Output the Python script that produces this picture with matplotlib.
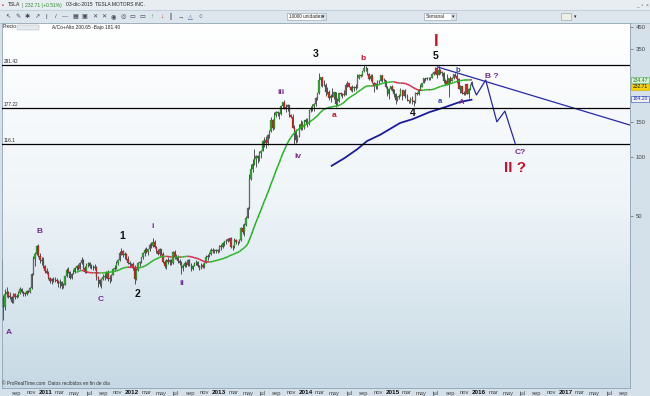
import numpy as np
import pandas as pd
import matplotlib
matplotlib.use('Agg')
import matplotlib.pyplot as plt
import matplotlib.dates as mdates
from matplotlib.patches import Rectangle
from matplotlib.collections import LineCollection
from matplotlib.colors import LinearSegmentedColormap
from matplotlib.ticker import NullLocator

plt.rcParams['font.family'] = ['Liberation Sans', 'DejaVu Sans']

# TSLA weekly bars, one value per week (weeks start Monday 2010-06-28 .. 2015-11-30)
# open of each week = close of the week before
first_open = 19.0

close = [
    # 2010
    19.2,
    17.4, 20.2, 20.7, 19.9,
    19.5, 18.5, 20.3, 19.6, 19.9,
    20.5, 21.4, 20.7, 20.4,
    20.3, 20.9, 20.7, 21.8,
    25.5, 30.3, 32.3, 35.3, 31.5,
    30.2, 29.8, 28.0, 26.6,
    # 2011
    26.0, 24.3, 23.6, 24.1, 23.9,
    23.8, 23.5, 22.9, 23.3,
    22.2, 22.6, 24.9, 26.9,
    26.2, 24.5, 25.7, 26.2,
    27.4, 27.9, 27.2, 29.0, 30.2,
    27.4, 26.2, 28.5, 29.2,
    27.9, 28.2, 27.3, 27.7,
    24.6, 23.8, 22.8, 24.1, 24.8,
    25.0, 26.3, 24.0, 24.4,
    25.3, 27.0, 27.5, 29.2, 30.1,
    32.6, 33.5, 31.9, 32.3,
    30.6, 29.0, 28.6, 28.6,
    # 2012
    27.3, 24.0, 26.9, 29.1, 29.4,
    31.0, 32.8, 33.8, 33.2,
    34.0, 35.8, 35.5, 37.2,
    35.0, 33.3, 32.2, 34.0, 32.2,
    29.4, 27.9, 30.0, 29.3,
    30.0, 29.0, 33.1, 31.3,
    31.0, 29.6, 29.0, 27.4, 27.9,
    29.1, 28.4, 30.0, 28.3,
    27.2, 28.2, 28.6, 29.3,
    28.0, 27.4, 28.5, 27.8, 29.0,
    31.2, 31.6, 32.1, 33.9,
    33.3, 33.6, 33.7, 33.4, 35.4,
    # 2013
    34.9, 36.5, 37.5, 37.5,
    38.3, 38.7, 34.8, 34.9,
    37.9, 37.0, 37.1, 37.9,
    43.6, 41.9, 45.0, 49.1, 55.2,
    76.8, 86.9, 92.1, 97.8,
    100.8, 98.0, 104.5, 107.5,
    120.1, 121.0, 117.0, 128.5, 134.5,
    153.5, 139.0, 161.8, 169.0,
    166.1, 165.0, 180.5, 190.0, 173.3,
    178.7, 181.5, 162.8, 159.6,
    140.0, 135.3, 121.6, 127.3,
    137.4, 147.0, 139.3, 152.6, 149.6,
    # 2014
    145.7, 171.3, 174.6, 181.4,
    185.0, 198.2, 209.6, 244.8,
    253.0, 230.9, 230.0, 212.2, 212.0,
    197.7, 203.0, 200.9, 211.4,
    184.1, 190.2, 209.1, 207.8,
    205.8, 206.0, 231.6, 236.0, 225.3,
    217.0, 222.5, 223.6, 223.3,
    250.5, 259.3, 255.8, 269.7,
    280.0, 279.3, 262.2, 246.6, 255.2,
    236.9, 227.5, 235.2, 241.7,
    241.2, 258.7, 242.8, 244.5,
    223.7, 207.0, 219.3, 227.8, 219.3,
    # 2015
    206.6, 192.4, 201.3, 203.6,
    217.4, 203.8, 217.1, 203.3,
    193.9, 191.1, 195.7, 190.6, 188.7,
    210.9, 207.5, 218.4, 226.0,
    236.6, 248.8, 247.1, 250.8,
    249.1, 250.7, 262.5, 267.0, 280.0,
    259.2, 274.7, 265.4, 266.2,
    242.5, 242.0, 230.8, 248.5, 241.5,
    250.2, 262.1, 256.9, 247.6,
    220.7, 227.0, 209.1, 206.9,
    232.4, 207.5, 220.5, 230.3, 232.7,
]

high = [
    # 2010
    30.4,
    20.0, 21.5, 21.9, 21.0,
    20.8, 19.7, 20.6, 20.5, 20.3,
    21.0, 22.0, 21.7, 21.0,
    20.8, 21.3, 21.2, 22.0,
    25.8, 31.5, 33.0, 35.8, 36.4,
    32.5, 31.0, 31.0, 28.3,
    # 2011
    27.5, 26.4, 24.8, 24.5, 24.6,
    24.8, 24.5, 23.8, 24.0,
    23.6, 23.0, 25.0, 27.5,
    27.6, 26.5, 26.0, 27.0,
    27.8, 28.3, 28.6, 29.3, 31.2,
    30.5, 27.9, 28.9, 29.5,
    29.4, 28.6, 28.5, 28.7,
    27.9, 25.0, 24.2, 24.4, 25.5,
    25.8, 26.5, 26.8, 25.2,
    25.6, 27.4, 28.3, 29.6, 30.5,
    33.4, 34.6, 33.9, 33.0,
    32.8, 31.5, 29.8, 29.0,
    # 2012
    29.5, 28.3, 27.4, 29.5, 29.8,
    31.3, 33.2, 34.4, 34.9,
    34.3, 36.5, 37.3, 38.9,
    38.0, 35.5, 34.0, 34.5, 34.3,
    33.0, 30.0, 30.5, 31.2,
    30.5, 30.5, 33.6, 33.8,
    32.2, 32.0, 30.5, 29.8, 28.8,
    29.6, 29.5, 30.4, 30.5,
    29.0, 28.5, 29.5, 30.2,
    29.6, 28.5, 29.0, 28.9, 29.3,
    31.8, 32.4, 33.0, 34.5,
    34.6, 34.0, 34.3, 34.0, 35.9,
    # 2013
    36.3, 37.3, 37.5, 38.2,
    38.9, 39.0, 39.3, 35.9,
    38.9, 38.5, 37.6, 38.3,
    44.3, 45.5, 46.0, 50.0, 55.8,
    82.0, 91.5, 97.8, 110.0,
    102.0, 102.5, 106.5, 108.5,
    122.0, 125.3, 127.5, 130.5, 136.0,
    159.0, 155.0, 168.0, 169.5,
    170.5, 168.0, 182.0, 190.0, 194.5,
    185.0, 185.5, 181.0, 165.0,
    164.0, 144.0, 137.5, 128.5,
    146.0, 154.0, 151.0, 154.0, 156.0,
    # 2014
    156.0, 172.5, 180.0, 184.0,
    187.0, 200.0, 210.0, 265.0,
    254.0, 253.5, 244.0, 234.5, 224.5,
    218.5, 208.0, 222.5, 212.5,
    212.5, 199.0, 211.0, 212.0,
    210.0, 216.5, 237.0, 240.0, 236.0,
    227.0, 229.0, 228.5, 232.0,
    262.0, 262.0, 262.5, 270.0,
    291.4, 286.5, 280.5, 264.0, 262.0,
    262.5, 238.5, 237.0, 244.5,
    244.5, 259.0, 259.5, 250.0,
    244.0, 228.5, 222.0, 228.0, 230.0,
    # 2015
    220.5, 209.0, 201.5, 207.5,
    221.5, 218.0, 218.0, 219.0,
    206.5, 194.5, 200.5, 202.0, 194.0,
    212.0, 213.5, 219.0, 233.5,
    237.0, 249.0, 251.0, 252.0,
    252.0, 252.0, 263.5, 272.0, 283.0,
    281.0, 286.0, 277.5, 272.0,
    269.0, 246.0, 262.5, 249.0, 254.5,
    253.0, 262.5, 266.0, 265.0,
    248.5, 229.5, 227.0, 215.5,
    233.0, 233.5, 222.0, 232.0, 240.0,
]

low = [
    # 2010
    17.5,
    15.0, 16.9, 19.6, 19.4,
    19.1, 18.2, 18.3, 19.2, 19.3,
    19.6, 20.2, 20.4, 19.8,
    19.9, 20.1, 20.4, 20.5,
    21.5, 25.3, 28.0, 32.0, 31.0,
    29.0, 28.5, 27.5, 26.0,
    # 2011
    25.5, 24.0, 23.0, 22.8, 23.2,
    23.4, 23.0, 22.0, 21.6,
    21.5, 21.7, 22.5, 24.6,
    25.8, 24.0, 24.2, 25.5,
    25.8, 26.8, 26.8, 27.0, 28.7,
    27.0, 25.8, 26.0, 27.8,
    27.5, 27.0, 26.8, 26.8,
    23.8, 22.0, 22.3, 21.6, 23.8,
    23.9, 24.5, 23.5, 23.0,
    23.5, 25.2, 26.5, 27.2, 28.5,
    29.8, 31.8, 31.0, 30.5,
    30.0, 28.6, 27.6, 27.9,
    # 2012
    26.8, 22.7, 23.9, 26.5, 28.2,
    29.0, 30.5, 31.5, 32.5,
    32.0, 33.5, 34.5, 35.2,
    34.5, 32.5, 31.8, 31.5, 31.8,
    29.0, 27.5, 27.2, 28.8,
    28.3, 28.5, 28.8, 30.5,
    30.5, 29.2, 28.5, 25.5, 26.5,
    27.6, 27.8, 28.0, 28.0,
    26.5, 26.9, 27.9, 28.4,
    27.8, 26.9, 27.2, 27.3, 27.5,
    28.9, 30.0, 31.2, 32.0,
    32.7, 32.5, 32.6, 32.8, 33.2,
    # 2013
    33.8, 34.4, 35.4, 36.2,
    37.0, 37.5, 34.6, 33.8,
    34.6, 36.2, 35.8, 36.5,
    37.6, 40.5, 40.0, 44.5, 49.0,
    54.5, 76.0, 83.5, 90.5,
    88.5, 93.0, 95.0, 99.0,
    107.0, 112.0, 110.5, 115.0, 124.0,
    133.0, 137.0, 137.5, 158.0,
    161.0, 155.0, 163.0, 176.0, 175.5,
    167.5, 170.5, 159.0, 156.0,
    139.0, 116.1, 117.5, 119.0,
    126.0, 136.0, 136.5, 138.5, 146.0,
    # 2014
    140.5, 144.0, 168.0, 170.5,
    170.5, 180.0, 194.0, 207.0,
    228.5, 226.0, 227.0, 203.5, 208.0,
    194.0, 190.0, 200.0, 196.5,
    178.0, 182.0, 188.5, 202.5,
    199.0, 201.5, 205.0, 225.5, 224.0,
    214.5, 212.0, 216.0, 216.5,
    224.0, 246.0, 251.5, 254.5,
    268.0, 271.5, 258.0, 243.0, 240.5,
    235.0, 213.0, 220.5, 219.5,
    232.0, 240.0, 238.0, 240.0,
    221.5, 202.5, 196.5, 218.0, 216.0,
    # 2015
    200.0, 185.5, 191.0, 195.0,
    203.5, 192.5, 202.0, 198.0,
    191.5, 186.0, 187.0, 184.0, 181.4,
    187.5, 204.0, 206.0, 217.5,
    225.0, 235.0, 241.5, 244.5,
    243.5, 244.0, 249.0, 258.0, 262.0,
    250.5, 257.5, 260.5, 256.5,
    236.0, 231.0, 229.0, 199.3, 234.5,
    240.0, 247.0, 254.0, 237.0,
    220.0, 210.5, 208.0, 206.0,
    206.0, 207.0, 198.5, 217.0, 228.0,
]

# horizontal levels drawn on the chart
levels = [291.42, 177.22, 116.1]
level_labels = ['291.42', '177.22', '116.1']

# green/red moving average
ma_weeks = 30
ma_from = '2011-05-09'

# long blue average
blue_dates = ['2014-04-20', '2014-06-14', '2014-08-07', '2014-09-16', '2014-11-10',
              '2015-02-02', '2015-03-28', '2015-06-06', '2015-08-11', '2015-10-12',
              '2015-11-30']
blue_vals = [90, 98.6, 109.4, 120, 129, 148, 155, 168, 178, 189, 194]

# hand drawn trend line and projected path
trend_dates = ['2015-07-10', '2017-09-28']
trend_vals = [284, 144.5]
proj_dates = ['2015-11-30', '2015-12-21', '2016-01-29', '2016-03-16', '2016-04-19', '2016-06-01']
proj_vals = [236, 205, 244, 150, 170, 117]

PURPLE = '#6f2c91'
RED = '#c8102e'
BLACK = '#111111'
BLUE = '#2a3aa8'

# wave count labels: text, date, price, colour, size
waves = [
    ('A', '2010-07-30', 13.0, PURPLE, 6),
    ('B', '2010-12-08', 41.7, PURPLE, 6),
    ('C', '2011-08-22', 18.9, PURPLE, 6),
    ('1', '2011-11-18', 39.8, BLACK, 7.5),
    ('2', '2012-01-24', 20.3, BLACK, 7.5),
    ('i', '2012-03-25', 44.2, PURPLE, 6),
    ('ii', '2012-07-28', 23.0, PURPLE, 6),
    ('iii', '2013-09-18', 212, PURPLE, 6),
    ('iv', '2013-11-29', 99.7, PURPLE, 6),
    ('3', '2014-02-13', 330, BLACK, 7.5),
    ('a', '2014-04-29', 160.6, RED, 6),
    ('b', '2014-08-29', 311.6, RED, 6),
    ('4', '2015-03-28', 166.3, BLACK, 7.5),
    ('5', '2015-07-03', 322.6, BLACK, 7.5),
    ('I', '2015-07-03', 380, RED, 12),
    ('a', '2015-07-19', 189, BLUE, 5.5),
    ('b', '2015-10-03', 274, BLUE, 5.5),
    ('A', '2015-10-20', 186.8, PURPLE, 5.5),
    ('B ?', '2016-02-24', 255.5, PURPLE, 6),
    ('C?', '2016-06-21', 104.7, PURPLE, 6),
    ('II ?', '2016-05-31', 87.7, RED, 11),
]

# ---------------------------------------------------------------
W, H = 650, 396


def fbox(x0, y0, x1, y1):
    return [x0 / W, 1 - y1 / H, (x1 - x0) / W, (y1 - y0) / H]


fig = plt.figure(figsize=(6.5, 3.96), dpi=100)
fig.patch.set_facecolor('#d5e1ea')

# window chrome (pixel coords)
ui = fig.add_axes([0, 0, 1, 1])
ui.set_xlim(0, W)
ui.set_ylim(H, 0)
ui.axis('off')
ui.add_patch(Rectangle((0, 0), W, 10, color='#e8edf1'))
ui.add_patch(Rectangle((0, 10), W, 13, color='#dde6ed'))
ui.plot([0, W], [10, 10], color='#b8c6d2', lw=0.5)
ui.plot([0, W], [22.5, 22.5], color='#9fb1c0', lw=0.5)
ui.text(2, 5, '▪', color='#cc3333', fontsize=4, va='center')
ui.text(8, 5, 'TSLA', color='#222', fontsize=3.6, va='center')
ui.text(22, 5, '|', color='#777', fontsize=3.6, va='center')
ui.text(25, 5, '232.71 (+0.51%)', color='#2e8b2e', fontsize=3.6, va='center')
ui.text(66, 5, '03-dic-2015  TESLA MOTORS INC.', color='#222', fontsize=3.6, va='center')
ui.text(636, 5, '_  ▫  ×', color='#667', fontsize=3.5, va='center')

icons = ['↖', '✎', '✱', '↗', '|', '/', '—', '▦', '▣', '✕', '✕', '◉', '◎', '▭', '▭',
         '↑', '↓', '║', '→', '△', '○']
icon_cols = ['#445'] * 15 + ['#2a9a2a', '#cc2222', '#445', '#445', '#3355aa', '#445']
for k, (ic, col) in enumerate(zip(icons, icon_cols)):
    ui.text(8 + k * 9.6, 16.5, ic, color=col, fontsize=4.5, ha='center', va='center')

for (x0, x1, txt) in [(287, 326, '10000 unidades'), (424, 456, 'Semanal')]:
    ui.add_patch(Rectangle((x0, 13), x1 - x0, 7, fc='white', ec='#8a9aa8', lw=0.4))
    ui.add_patch(Rectangle((x1 - 5, 13.5), 4.5, 6, fc='#dde3ea', ec='none'))
    ui.text(x0 + 2, 16.6, txt, fontsize=3.4, va='center', color='#222')
    ui.text(x1 - 2.8, 16.6, '▾', fontsize=3.5, va='center', ha='center', color='#222')
ui.add_patch(Rectangle((561, 13), 10, 7, fc='#eef2e6', ec='#8a9aa8', lw=0.4))
ui.text(574, 16.5, '▾', fontsize=3.5, va='center', color='#222')

# plot background gradient
bg = fig.add_axes(fbox(2, 23, 630, 388))
bg.imshow(np.linspace(0, 1, 256).reshape(-1, 1), aspect='auto', extent=[0, 1, 0, 1],
          cmap=LinearSegmentedColormap.from_list('bgc', ['#ffffff', '#eef4f8', '#c6d9e4']))
bg.axis('off')

ax = fig.add_axes(fbox(2, 23, 630, 388))
ax.patch.set_alpha(0)
ax.set_yscale('log')

weeks = pd.date_range('2010-06-28', periods=len(close), freq='W-MON')
xw = mdates.date2num(weeks + pd.Timedelta(days=2))
c = np.array(close)
o = np.concatenate([[first_open], c[:-1]])
hi = np.maximum(np.array(high), np.maximum(o, c))
lo = np.minimum(np.array(low), np.minimum(o, c))

up = c >= o
body_lo = np.minimum(o, c)
body_h = np.maximum(np.abs(c - o), body_lo * 0.006)
ax.vlines(xw, lo, hi, color='#2a2a2a', lw=0.55, zorder=2)
ax.bar(xw, body_h, bottom=body_lo, width=5.2,
       color=np.where(up, '#2fb02f', '#d82a2a'), edgecolor='#2a2a2a', linewidth=0.15, zorder=3)

# moving average, red where it falls
ma = pd.Series(c, index=weeks).rolling(ma_weeks).mean()
ma = ma[ma.index >= pd.Timestamp(ma_from)]
mx = mdates.date2num(ma.index + pd.Timedelta(days=2))
mv = ma.values
segs = [[(mx[k], mv[k]), (mx[k + 1], mv[k + 1])] for k in range(len(mv) - 1)]
seg_cols = ['#d8204a' if mv[k + 1] < mv[k] else '#1fb41f' for k in range(len(mv) - 1)]
ax.add_collection(LineCollection(segs, colors=seg_cols, linewidths=1.1, zorder=4))

ax.plot(mdates.date2num(pd.to_datetime(blue_dates)), blue_vals, color='#1c1c9a', lw=1.3, zorder=4)
ax.plot(mdates.date2num(pd.to_datetime(trend_dates)), trend_vals, color='#2828a8', lw=0.9, zorder=4)
ax.plot(mdates.date2num(pd.to_datetime(proj_dates)), proj_vals, color='#2828a8', lw=0.9, zorder=4)

for v, lab in zip(levels, level_labels):
    ax.axhline(v, color='black', lw=0.9, zorder=5)
    ax.text(0.002, v * 1.006, lab, transform=ax.get_yaxis_transform(), fontsize=3.4,
            color='#222', va='bottom', ha='left', zorder=6)

for txt, d, p, col, sz in waves:
    ax.text(mdates.date2num(pd.Timestamp(d)), p, txt, color=col, fontsize=sz,
            fontweight='bold', ha='center', va='center', zorder=7)

ax.set_xlim(mdates.date2num(pd.Timestamp('2010-07-01')), mdates.date2num(pd.Timestamp('2017-09-28')))
ax.set_ylim(6.79, 473.6)

# price axis on the right
ax.yaxis.tick_right()
ax.set_yticks([50, 100, 150, 350, 450])
ax.set_yticklabels(['50', '100', '150', '350', '450'])
ax.yaxis.set_minor_locator(NullLocator())
ax.tick_params(axis='y', length=2, width=0.4, labelsize=4.3, pad=2, colors='#444')

# time axis, every two months
tick_days = pd.date_range('2010-09-01', '2017-09-01', freq='2MS')
mon_names = {3: 'mar', 5: 'may', 7: 'jul', 9: 'sep', 11: 'nov'}
ax.set_xticks(mdates.date2num(tick_days))
ax.set_xticklabels([str(d.year) if d.month == 1 else mon_names[d.month] for d in tick_days])
ax.xaxis.set_minor_locator(NullLocator())
ax.tick_params(axis='x', length=0, labelsize=4.2, pad=1.8, colors='#444')
for d, t in zip(tick_days, ax.get_xticklabels()):
    if d.month == 1:
        t.set_fontweight('bold')
        t.set_color('#111')
        t.set_fontsize(4.6)

for s in ax.spines.values():
    s.set_color('#8ea2b2')
    s.set_linewidth(0.6)

# overlay texts in pixel coords
top = fig.add_axes([0, 0, 1, 1])
top.set_xlim(0, W)
top.set_ylim(H, 0)
top.axis('off')
top.patch.set_alpha(0)
top.text(3, 27, 'Precio', fontsize=3.5, color='#222', va='center')
top.add_patch(Rectangle((17, 24.5), 22, 5, fc='#e4e9ee', ec='#a0aab4', lw=0.3))
top.text(52, 27, 'A/Co+Alto 200.65 -Bajo 181.40', fontsize=3.5, color='#222', va='center')
top.text(2, 383.5, '© ProRealTime.com  Datos recibidos en fin de día', fontsize=3.4, color='#333', va='center')

for yc, fc, ec, tc, txt in [(80, '#d9f3d9', '#4aa64a', '#237a23', '234.47'),
                            (86.5, '#f4d20a', '#c8a800', '#111', '232.71'),
                            (99, '#edf1fb', '#3344aa', '#2233aa', '184.20')]:
    top.add_patch(Rectangle((631, yc - 3), 18, 6, fc=fc, ec=ec, lw=0.4))
    top.text(640, yc, txt, fontsize=3.6, color=tc, ha='center', va='center')

fig.savefig('out.png', dpi=100)
